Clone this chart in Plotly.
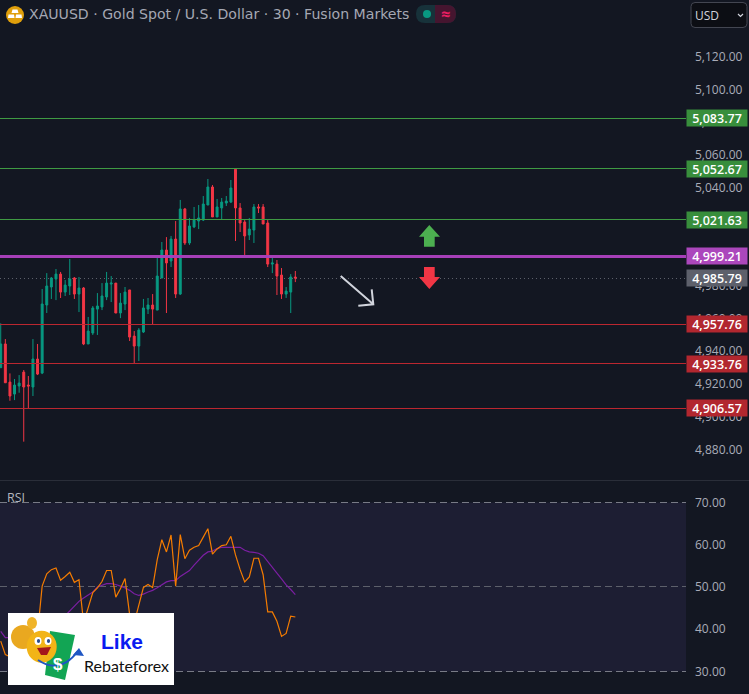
import plotly.graph_objects as go

W, H = 749, 694
bars = list(range(-1, 64))
opens = [4931.2,4945.7,4922.4,4915.1,4920.0,4928.5,4920.6,4919.4,4936.5,4927.9,4969.5,4980.5,4985.4,4988.4,4977.4,4981.1,4986.0,4976.2,4979.9,4945.7,4952.4,4967.0,4968.3,4974.4,4982.3,4982.9,4964.6,4970.1,4978.7,4950.5,4944.4,4953.0,4967.0,4969.5,4966.4,4986.0,5003.1,4996.4,5009.8,4976.2,5028.2,5007.4,5017.2,5020.8,5021.4,5030.6,5041.6,5023.3,5028.8,5031.8,5032.4,5052.4,5028.8,5020.2,5012.3,5015.3,5029.4,5029.4,5019.6,4994.5,4994.5,4987.8,4976.2,4977.4,4986.6]
highs = [4958.3,4948.7,4927.7,4924.3,4926.7,4929.8,4926.1,4948.7,4945.7,4979.3,4989.0,4986.6,4991.5,4989.7,4984.8,4997.6,4986.6,4986.6,4980.5,4962.2,4968.9,4976.8,4982.9,4989.7,4987.2,4982.9,4976.8,4980.5,4978.7,4953.6,4955.4,4973.2,4973.8,4976.2,4999.4,5008.0,5011.0,5011.7,5020.8,5033.7,5028.8,5022.7,5029.4,5030.6,5036.1,5046.5,5042.8,5034.3,5034.9,5036.1,5045.9,5052.4,5031.8,5021.4,5022.7,5031.2,5031.2,5031.2,5021.4,5000.0,4997.0,4992.1,4980.5,4988.4,4990.3]
lows = [4931.2,4922.0,4911.0,4911.4,4915.9,4886.0,4906.1,4913.9,4926.7,4927.3,4964.6,4973.2,4972.5,4973.8,4975.0,4975.6,4973.2,4965.2,4945.0,4945.7,4951.2,4951.2,4966.4,4972.5,4971.3,4964.6,4961.5,4966.4,4947.5,4934.0,4935.3,4952.4,4964.0,4957.9,4966.4,4986.0,4964.6,4992.7,4973.8,4975.6,5006.2,5006.2,5016.5,5015.9,5020.8,5030.6,5023.3,5023.3,5022.0,5030.0,5031.8,5008.6,5014.1,4999.4,5009.2,5007.4,5025.7,5019.0,4992.7,4989.0,4975.6,4973.2,4973.8,4964.6,4983.5]
closes = [4945.7,4922.0,4913.9,4920.6,4921.8,4919.4,4920.0,4936.5,4927.3,4970.1,4981.1,4986.0,4988.4,4977.4,4981.7,4985.4,4976.2,4979.9,4945.7,4953.6,4967.7,4968.9,4975.0,4982.9,4982.9,4964.6,4970.7,4977.4,4949.9,4944.4,4954.2,4967.7,4969.5,4967.0,4987.2,5003.1,4995.2,5009.8,4976.2,5028.2,5007.4,5017.8,5021.4,5022.7,5031.2,5041.6,5023.3,5029.4,5032.4,5033.0,5041.0,5028.8,5019.6,5011.7,5015.9,5029.4,5028.8,5019.0,4994.5,4995.2,4987.2,4976.2,4978.0,4986.6,4986.0]

rsi = [37.2,34.0,33.5,38.0,36.0,38.0,39.0,37.0,39.1,50.2,53.1,54.1,54.5,51.6,52.5,53.5,51.1,51.7,41.5,45.4,48.7,49.8,51.3,53.9,53.9,47.6,49.6,52.0,43.5,41.5,45.8,49.9,50.6,49.9,56.5,61.2,58.3,62.3,50.2,62.4,56.7,58.7,59.4,59.8,61.8,63.8,57.8,59.0,59.8,60.0,62.0,57.6,54.1,51.2,52.4,56.8,56.8,52.9,44.1,44.1,41.9,38.3,39.0,43.1,42.9]
rsi_ma = [39.5,38.0,38.0,38.0,38.5,39.0,39.5,40.0,40.5,41.0,41.5,41.5,42.0,42.5,43.2,44.3,45.6,46.6,47.4,48.0,48.8,50.0,50.4,50.8,50.8,50.6,50.2,49.8,49.2,48.4,48.0,48.3,48.8,49.2,49.8,50.6,51.2,51.5,51.5,52.5,53.1,53.9,55.2,56.3,57.5,58.3,58.5,59.1,59.4,59.4,59.4,59.3,59.4,58.7,58.3,58.2,58.0,57.4,56.1,54.6,53.3,51.9,50.5,49.4,48.2]

level_values = [5083.77, 5052.67, 5021.63, 4999.21, 4957.76, 4933.76, 4906.57]
level_line_colors = ["#3f9a43", "#3f9a43", "#3f9a43", "#a63fb8", "#bb2730", "#bb2730", "#bb2730"]
level_tag_colors = ["#388e3c", "#388e3c", "#388e3c", "#ab47bc", "#b2272f", "#b2272f", "#b2272f"]
last_price = 4985.79
price_ticks = [5120, 5100, 5080, 5060, 5040, 4980, 4960, 4940, 4920, 4900, 4880]
rsi_ticks = [70, 60, 50, 40, 30]

BG = "#131722"
FONT = "Open Sans"
TXT = "#a9acb8"

def X(p): return p / W
def Y(p): return 1 - p / H
def fmt(v): return f"{v:,.2f}"

def rrect(x0, y0, x1, y1, r):
    a, b, c, d = X(x0), Y(y0), X(x1), Y(y1)
    rx, ry = r / W, r / H
    return (f"M{a+rx},{b} L{c-rx},{b} Q{c},{b} {c},{b-ry} L{c},{d+ry} Q{c},{d} {c-rx},{d} "
            f"L{a+rx},{d} Q{a},{d} {a},{d+ry} L{a},{b-ry} Q{a},{b} {a+rx},{b} Z")

def poly(pts):
    return "M" + " L".join(f"{X(a)},{Y(b)}" for a, b in pts) + " Z"

def pshape(path, fill="rgba(0,0,0,0)", line=None, lw=0):
    return dict(type="path", xref="paper", yref="paper", path=path, fillcolor=fill,
                line=dict(color=line or "rgba(0,0,0,0)", width=lw), layer="above")

def circ(cx, cy, rx, ry, fill):
    return dict(type="circle", xref="paper", yref="paper", x0=X(cx-rx), x1=X(cx+rx), y0=Y(cy+ry), y1=Y(cy-ry),
                fillcolor=fill, line=dict(width=0), layer="above")

def label(px, py, text, size=12, color=TXT, anchor="left", font=FONT, **kw):
    return dict(xref="paper", yref="paper", x=X(px), y=Y(py), text=text, showarrow=False, xanchor=anchor,
                yanchor="middle", font=dict(family=font, size=size, color=color), borderpad=0, **kw)

fig = go.Figure()
fig.add_trace(go.Candlestick(x=bars, open=opens, high=highs, low=lows, close=closes, xaxis="x", yaxis="y",
    increasing=dict(line=dict(color="#089981", width=1), fillcolor="#089981"),
    decreasing=dict(line=dict(color="#f23645", width=1), fillcolor="#f23645"), showlegend=False))
fig.add_trace(go.Scatter(x=bars, y=rsi_ma, mode="lines", line=dict(color="#7b1fa2", width=1.2), xaxis="x2", yaxis="y2", showlegend=False))
fig.add_trace(go.Scatter(x=bars, y=rsi, mode="lines", line=dict(color="#f57c00", width=1.2), xaxis="x2", yaxis="y2", showlegend=False))

shapes = []
# RSI band and guides
shapes.append(dict(type="rect", xref="paper", yref="y2", x0=0, x1=X(686), y0=30, y1=70, fillcolor="#1d1e33", line=dict(width=0), layer="below"))
for v, c in [(70, "#787b86"), (50, "#5d606b"), (30, "#787b86")]:
    shapes.append(dict(type="line", xref="paper", yref="y2", x0=0, x1=X(686), y0=v, y1=v, line=dict(color=c, width=1, dash="7px,4px"), layer="below"))
# separator
shapes.append(dict(type="line", xref="paper", yref="paper", x0=0, x1=1, y0=Y(480.5), y1=Y(480.5), line=dict(color="#2a2e39", width=1), layer="below"))
# levels
for v, c in zip(level_values, level_line_colors):
    shapes.append(dict(type="line", xref="paper", yref="y", x0=0, x1=X(686), y0=v, y1=v,
                       line=dict(color=c, width=3 if v == 4999.21 else 1), layer="above"))
shapes.append(dict(type="line", xref="paper", yref="y", x0=0, x1=X(686), y0=last_price, y1=last_price,
                   line=dict(color="#5d606b", width=1, dash="1px,3px"), layer="below"))
# drawings
shapes.append(pshape(poly([(429.3,225),(440,236.7),(434.7,236.7),(434.7,246.7),(424,246.7),(424,236.7),(419,236.7)]), "#4caf50"))
shapes.append(pshape(poly([(424,267),(434.7,267),(434.7,277),(440,277),(429.3,289),(419,277),(424,277)]), "#f23645"))
arrow = f"M{X(340.7)},{Y(276)} L{X(373.3)},{Y(304.3)} M{X(371.7)},{Y(289.3)} L{X(373.3)},{Y(304.3)} L{X(358.3)},{Y(305.7)}"
shapes.append(pshape(arrow, line="#d1d4dc", lw=2))
# header
shapes.append(circ(15, 15, 9, 9, "#e09f0b"))
shapes.append(pshape(poly([(12.5,9.5),(17.5,9.5),(18.5,13),(11.5,13)]), "#ffffff"))
shapes.append(pshape(poly([(8.5,14.5),(14,14.5),(14.5,18),(8,18)]), "#ffffff"))
shapes.append(pshape(poly([(16,14.5),(21.5,14.5),(22,18),(15.5,18)]), "#ffffff"))
shapes.append(pshape(rrect(416, 5, 456, 23, 9), "#17323a"))
shapes.append(pshape(f"M{X(435)},{Y(5)} L{X(447)},{Y(5)} Q{X(456)},{Y(5)} {X(456)},{Y(14)} Q{X(456)},{Y(23)} {X(447)},{Y(23)} L{X(435)},{Y(23)} Z", "#45152f"))
shapes.append(circ(427, 14, 4, 4, "#089981"))
shapes.append(pshape(rrect(691, 2.5, 747, 27.5, 4), "#0c0e14", "#434651", 1))
shapes.append(pshape(f"M{X(738)},{Y(14)} L{X(740.5)},{Y(16.5)} L{X(743)},{Y(14)}", line="#d1d4dc", lw=1.2))
# logo
shapes.append(dict(type="rect", xref="paper", yref="paper", x0=X(8), x1=X(174), y0=Y(685), y1=Y(613), fillcolor="#ffffff", line=dict(width=0), layer="above"))
shapes.append(pshape(poly([(50,631),(75,635),(65,680),(45,675)]), "#12a554"))
shapes.append(circ(23, 637, 12, 12, "#e9a820"))
shapes.append(circ(32, 623, 5, 6, "#f0b429"))
shapes.append(circ(41.7, 646.7, 15, 16, "#f2b417"))
shapes.append(circ(38, 641, 3.5, 4, "#ffffff"))
shapes.append(circ(48, 641, 3.5, 4, "#ffffff"))
shapes.append(circ(38.5, 641, 1.6, 2, "#2b4d8c"))
shapes.append(circ(48.5, 641, 1.6, 2, "#2b4d8c"))
shapes.append(pshape(poly([(37,648),(51,647),(47,655),(41,655)]), "#a3161b"))
shapes.append(pshape(f"M{X(38)},{Y(660)} Q{X(60)},{Y(675)} {X(78)},{Y(651)}", line="#1f56c4", lw=2))
shapes.append(pshape(poly([(79,648),(84,656),(73,655)]), "#1f56c4"))

ann = []
ann.append(label(28, 14.5, "XAUUSD · Gold Spot / U.S. Dollar · 30 · Fusion Markets", 14.1, "#a5a8b4", font="DejaVu Sans"))
ann.append(label(445, 14, "<b>≈</b>", 16, "#e91e63", "center"))
ann.append(label(694, 15, "USD", 12, "#d1d4dc"))
ann.append(label(6, 497.5, "RSI", 12.5, "#b2b5be"))
ann.append(label(122.5, 641, "<b>Like</b>", 21, "#0a1af0", "center", "Liberation Sans"))
ann.append(label(126.5, 665, "Rebateforex", 16, "#111111", "center", "Lato"))
ann.append(label(57.5, 664, "<b>$</b>", 17, "#ffffff", "center", "Liberation Sans"))
for v, c in zip(level_values + [last_price], level_tag_colors + ["#5d606b"]):
    ann.append(dict(xref="paper", yref="y", x=X(717), y=v, text=fmt(v), showarrow=False, xanchor="center", yanchor="middle",
                    width=60, height=16, bgcolor=c, align="center", borderpad=0,
                    font=dict(family=FONT, size=12.5, color="#ffffff", weight=600)))

fig.update_layout(
    width=W, height=H, autosize=False, margin=dict(l=0, r=0, t=0, b=0),
    paper_bgcolor=BG, plot_bgcolor=BG, boxgap=0.4, showlegend=False, hovermode=False,
    xaxis=dict(domain=[0, 688/W], range=[-1.158, 148.3], anchor="y", showticklabels=False, showgrid=False, zeroline=False, ticks="", rangeslider=dict(visible=False), showline=False),
    xaxis2=dict(domain=[0, 688/W], range=[-1.158, 148.3], anchor="y2", showticklabels=False, showgrid=False, zeroline=False, ticks="", showline=False),
    yaxis=dict(domain=[1-480/H, 1], range=[4862.58, 5155.87], side="right", anchor="x", tickvals=price_ticks,
               ticktext=[fmt(v) for v in price_ticks], showgrid=False, zeroline=False, showline=False, ticks="",
               tickfont=dict(family=FONT, size=12, color=TXT), ticklabelstandoff=6, ticklabelshift=-2),
    yaxis2=dict(domain=[0, 213/H], range=[24.67, 75.09], side="right", anchor="x2", tickvals=rsi_ticks,
                ticktext=[fmt(v) for v in rsi_ticks], showgrid=False, zeroline=False, showline=False, ticks="",
                tickfont=dict(family=FONT, size=12, color=TXT), ticklabelstandoff=6),
    shapes=shapes, annotations=ann,
)
crisp = ("document.body.style.margin='0';document.body.style.background='#131722';"
         "document.querySelectorAll('.shapelayer path').forEach(function(p){"
         "var d=p.getAttribute('d')||'';if(/^M[^A-Z]+[LHV][^A-Z]+$/.test(d)&&d.indexOf('Z')<0&&parseFloat(p.style.strokeWidth)<=3){p.style.shapeRendering='crispEdges';}});")
fig.write_html("out.html", post_script=crisp, config=dict(displayModeBar=False))
